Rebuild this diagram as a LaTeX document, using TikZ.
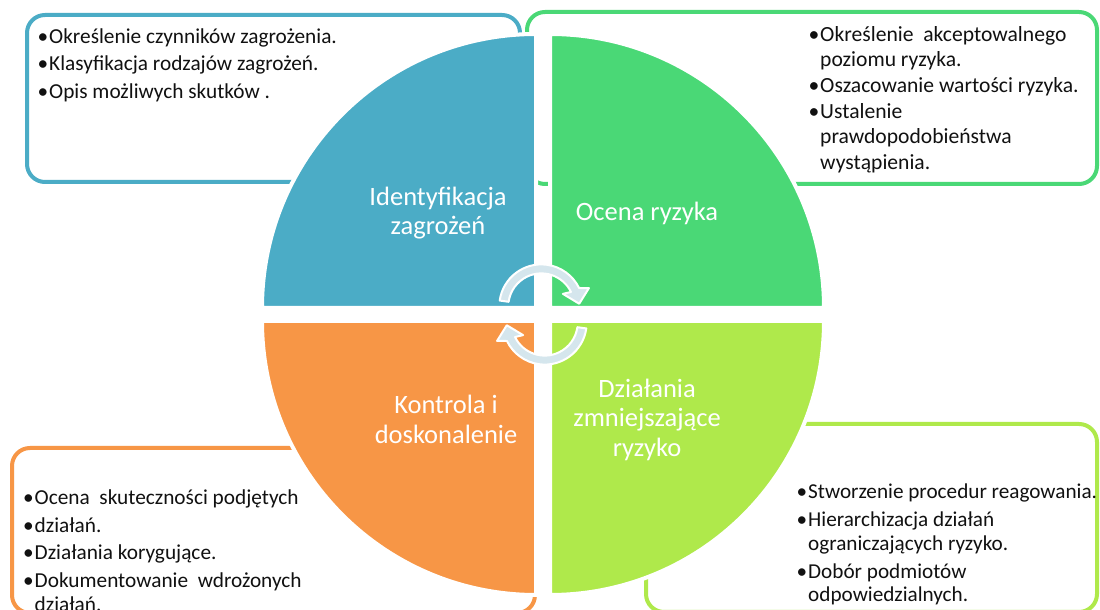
\documentclass[tikz,border=0pt]{standalone}
\usepackage{fontspec}
\setmainfont{Carlito}
\usetikzlibrary{calc}
\definecolor{qblue}{HTML}{4BACC6}
\definecolor{qgreen}{HTML}{4AD876}
\definecolor{qorange}{HTML}{F79646}
\definecolor{qlime}{HTML}{AFE94B}
\definecolor{arrfill}{HTML}{D5E6ED}
\definecolor{txt}{HTML}{111111}
\newlength{\bhang}
\setlength{\bhang}{11.5pt}
\newcommand{\bl}[1]{\makebox[\bhang][l]{•}#1}
\newcommand{\cl}[1]{\hspace*{\bhang}#1}
\begin{document}
\begin{tikzpicture}[x=1pt,y=1pt,
  frame/.style={rounded corners=18pt, line width=4pt},
  quad/.style={draw=white, line width=4pt},
  qlabel/.style={text=white, align=center, inner sep=0pt, font=\fontsize{26.5pt}{29.5pt}\selectfont},
  btext/.style={anchor=north west, align=left, inner sep=0pt, text=txt},
  cyc/.style={fill=arrfill, draw=white, line width=2pt, line join=round}]

\fill[white] (0,0) rectangle (1100,610);
\useasboundingbox (0,0) rectangle (1100,610);

% text frames
\draw[frame, draw=qblue]   (27,428) rectangle (520,595);
\draw[frame, draw=qgreen]  (527,426) rectangle (1097,598);
\draw[frame, draw=qorange] (12,-3) rectangle (535,162);
\draw[frame, draw=qlime]   (646,-2) rectangle (1097,186);

% quadrants
\filldraw[quad, fill=qblue]   (536,302) -- ++(180:274pt) arc[start angle=180,end angle=90,radius=274pt] -- cycle;
\filldraw[quad, fill=qgreen]  (550,302) -- ++(0:274pt) arc[start angle=0,end angle=90,radius=274pt] -- cycle;
\filldraw[quad, fill=qorange] (536,289) -- ++(180:274pt) arc[start angle=180,end angle=270,radius=274pt] -- cycle;
\filldraw[quad, fill=qlime]   (550,289) -- ++(0:274pt) arc[start angle=0,end angle=-90,radius=274pt] -- cycle;

% circular arrows
\coordinate (c1) at (541.3,303.6);
\coordinate (c2) at (544.7,287.4);
\filldraw[cyc] ($(c1)+(172:42pt)$) arc[start angle=172,end angle=26,radius=42pt]
  -- ($(c1)+(21:51pt)$) -- ($(c1)+(4:38pt)$) -- ($(c1)+(30:25pt)$)
  -- ($(c1)+(26:33pt)$) arc[start angle=26,end angle=172,radius=33pt] -- cycle;
\filldraw[cyc] ($(c2)+(352:42pt)$) arc[start angle=352,end angle=206,radius=42pt]
  -- ($(c2)+(201:51pt)$) -- ($(c2)+(184:38pt)$) -- ($(c2)+(210:25pt)$)
  -- ($(c2)+(206:33pt)$) arc[start angle=206,end angle=352,radius=33pt] -- cycle;

% quadrant labels
\node[qlabel] (lid) at (438,397) {Identyfikacja\\zagrożeń};
\node[qlabel] (lor) at (647,397) {Ocena ryzyka};
\node[qlabel] (lko) at (446,190.5) {Kontrola i\\doskonalenie};
\node[qlabel] (ldz) at (647,190.5) {Działania\\zmniejszające\\ryzyko};

% box texts
\node[btext, font=\fontsize{21.3pt}{26pt}\selectfont] (tblue) at (37.5,581.5)
  {\bl{Określenie czynników zagrożenia.}\\[1.5pt]
   \bl{Klasyfikacja rodzajów zagrożeń.}\\[1.5pt]
   \bl{Opis możliwych skutków .}};
\node[btext, font=\fontsize{21.6pt}{25.2pt}\selectfont] (tgreen) at (808.5,584)
  {\bl{Określenie \ akceptowalnego}\\
   \cl{poziomu ryzyka.}\\[1pt]
   \bl{Oszacowanie wartości ryzyka.}\\[1pt]
   \bl{Ustalenie}\\
   \cl{prawdopodobieństwa}\\
   \cl{wystąpienia.}};
\node[btext, font=\fontsize{21.3pt}{25pt}\selectfont] (torange) at (23,120)
  {\bl{Ocena \ skuteczności podjętych}\\[2.5pt]
   \bl{działań.}\\[2.5pt]
   \bl{Działania korygujące.}\\[2.5pt]
   \bl{Dokumentowanie \ wdrożonych}\\[-1pt]
   \cl{działań.}};
\node[btext, font=\fontsize{21.2pt}{23.4pt}\selectfont] (tlime) at (796.5,126)
  {\bl{Stworzenie procedur reagowania.}\\[4.5pt]
   \bl{Hierarchizacja działań}\\
   \cl{ograniczających ryzyko.}\\[4.5pt]
   \bl{Dobór podmiotów}\\
   \cl{odpowiedzialnych.}};
\end{tikzpicture}
\end{document}
